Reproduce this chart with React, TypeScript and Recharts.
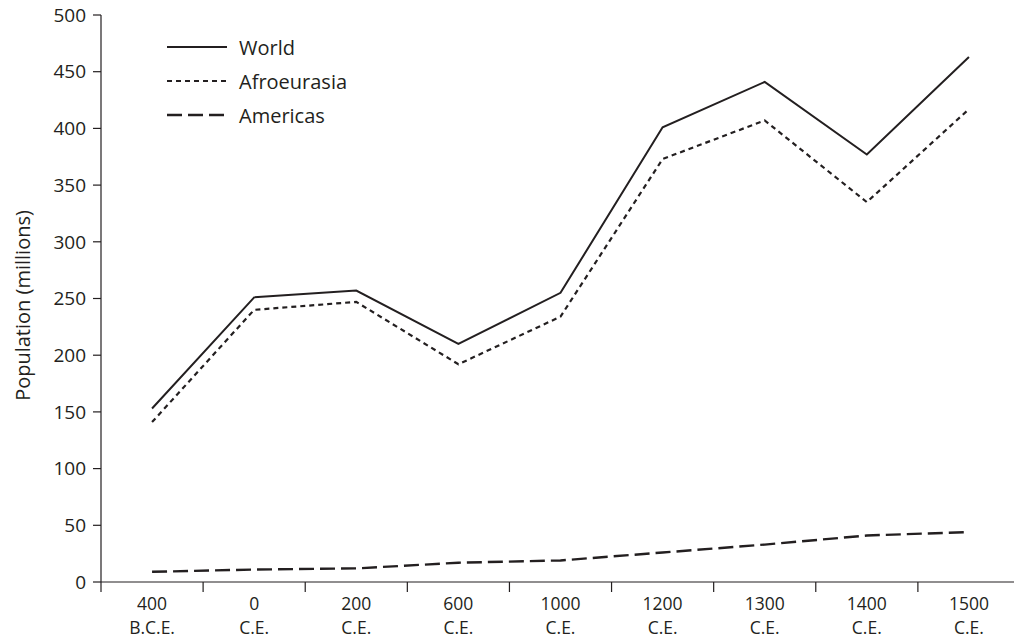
import { LineChart, Line, XAxis, YAxis } from 'recharts';

const periods = ['400|B.C.E.', '0|C.E.', '200|C.E.', '600|C.E.', '1000|C.E.', '1200|C.E.', '1300|C.E.', '1400|C.E.', '1500|C.E.'];
const world = [153, 251, 257, 210, 255, 401, 441, 377, 463];
const afroeurasia = [141, 240, 247, 192, 234, 373, 407, 335, 417];
const americas = [9, 11, 12, 17, 19, 26, 33, 41, 44];
const yTicks = [0, 50, 100, 150, 200, 250, 300, 350, 400, 450, 500];

const series = [
  { key: 'world', name: 'World', dash: undefined, width: 2 },
  { key: 'afroeurasia', name: 'Afroeurasia', dash: '5 4', width: 2.2 },
  { key: 'americas', name: 'Americas', dash: '15 6', width: 2.4 },
];

const data = periods.map((p, i) => ({
  period: p,
  world: world[i],
  afroeurasia: afroeurasia[i],
  americas: americas[i],
}));

const INK = '#231f20';
const FONT = '"Open Sans", Lato, sans-serif';
const W = 1030;
const H = 639;
const YW = 101;
const MR = 10;
// half of one category slot; points sit in the middle of each slot
const bandHalf = (W - YW - MR) / periods.length / 2;

function PeriodTick(props: any) {
  const { x, y, payload, index } = props;
  const [top, bottom] = String(payload.value).split('|');
  return (
    <g>
      <line x1={x - bandHalf} x2={x - bandHalf} y1={y} y2={y + 10} stroke={INK} strokeWidth={1.2} />
      {index === periods.length - 1 && (
        <line x1={x + bandHalf} x2={x + bandHalf} y1={y} y2={y + 10} stroke={INK} strokeWidth={1.2} />
      )}
      <text x={x} y={y + 28} textAnchor="middle" fill={INK} fontSize={17.5} fontFamily={FONT}>
        <tspan x={x}>{top}</tspan>
        <tspan x={x} dy={24}>{bottom}</tspan>
      </text>
    </g>
  );
}

function YLabel(props: any) {
  const { viewBox } = props;
  const cx = viewBox.x + 22;
  const cy = viewBox.y + viewBox.height / 2 + 7;
  return (
    <text x={cx} y={cy} transform={`rotate(-90 ${cx} ${cy})`} textAnchor="middle" dominantBaseline="central"
      fill={INK} fontSize={20} fontFamily={FONT}>
      Population (millions)
    </text>
  );
}

export default function App() {
  return (
    <div style={{ position: 'absolute', left: 0, top: 0, width: 1014, height: 639, overflow: 'hidden', background: '#fff' }}>
      <LineChart width={W} height={H} data={data} margin={{ top: 15, right: MR, bottom: 0, left: 0 }}>
        <XAxis dataKey="period" height={57} interval={0} tickLine={false} tickSize={0} tickMargin={0}
          padding={{ left: bandHalf, right: bandHalf }}
          axisLine={{ stroke: INK, strokeWidth: 1.2 }} tick={<PeriodTick />} />
        <YAxis width={YW} domain={[0, 500]} ticks={yTicks} interval={0} tickSize={8} tickMargin={7}
          axisLine={{ stroke: INK, strokeWidth: 1.2 }} tickLine={{ stroke: INK, strokeWidth: 1.2 }}
          tick={{ fill: INK, fontSize: 19, fontFamily: FONT }} label={<YLabel />} />
        {series.map(s => (
          <Line key={s.key} dataKey={s.key} name={s.name} type="linear" stroke={INK} strokeWidth={s.width}
            strokeDasharray={s.dash} dot={false} activeDot={false} isAnimationActive={false} />
        ))}
      </LineChart>
      <div style={{ position: 'absolute', left: 166, top: 30, fontFamily: FONT, fontSize: 20, color: INK }}>
        {series.map(s => (
          <div key={s.key} style={{ display: 'flex', alignItems: 'center', height: 34 }}>
            <svg width={62} height={10} style={{ marginRight: 11 }}>
              <line x1={1} x2={61} y1={5} y2={5} stroke={INK} strokeWidth={s.width} strokeDasharray={s.dash} />
            </svg>
            <span>{s.name}</span>
          </div>
        ))}
      </div>
    </div>
  );
}
